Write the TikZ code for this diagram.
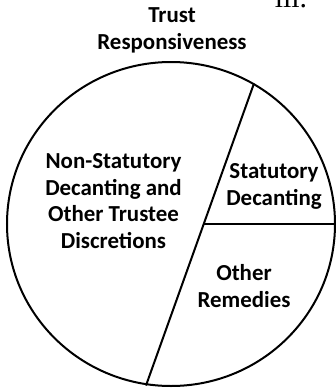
\documentclass[tikz,border=0pt]{standalone}
\usepackage{fontspec}
\setmainfont{Carlito}
\newfontfamily\romanfont{Liberation Serif}
\begin{document}
\begin{tikzpicture}[x=1bp,y=-1bp,
  lbl/.style={font=\fontsize{23}{26.5}\selectfont\bfseries, align=center, inner sep=0pt, anchor=base},
  edge/.style={line width=2bp, black}]
\useasboundingbox (0,0) rectangle (336,388);
\clip (0,0) rectangle (336,388);
% pie outline
\coordinate (c) at (171,224);
\draw[edge] (c) ellipse [x radius=164, y radius=162];
\coordinate (top) at (254,83.4);
\coordinate (bot) at (146,385.5);
\coordinate (mid) at (204,224);
\coordinate (right) at (335,224);
\draw[edge] (top) -- (bot);
\draw[edge] (mid) -- (right);
% labels (anchored at the baseline of the last line)
\node[lbl] (title) at (172,49) {Trust\\Responsiveness};
\node[lbl] (nonstat) at (113.5,248) {Non-Statutory\\Decanting and\\Other Trustee\\Discretions};
\node[lbl] (stat) at (274,205) {Statutory\\Decanting};
\node[lbl] (other) at (244,307) {Other\\Remedies};
\node[inner sep=0pt, anchor=base, font=\romanfont\fontsize{30}{30}\selectfont] (num) at (291,7.5) {iii.};
\end{tikzpicture}
\end{document}
